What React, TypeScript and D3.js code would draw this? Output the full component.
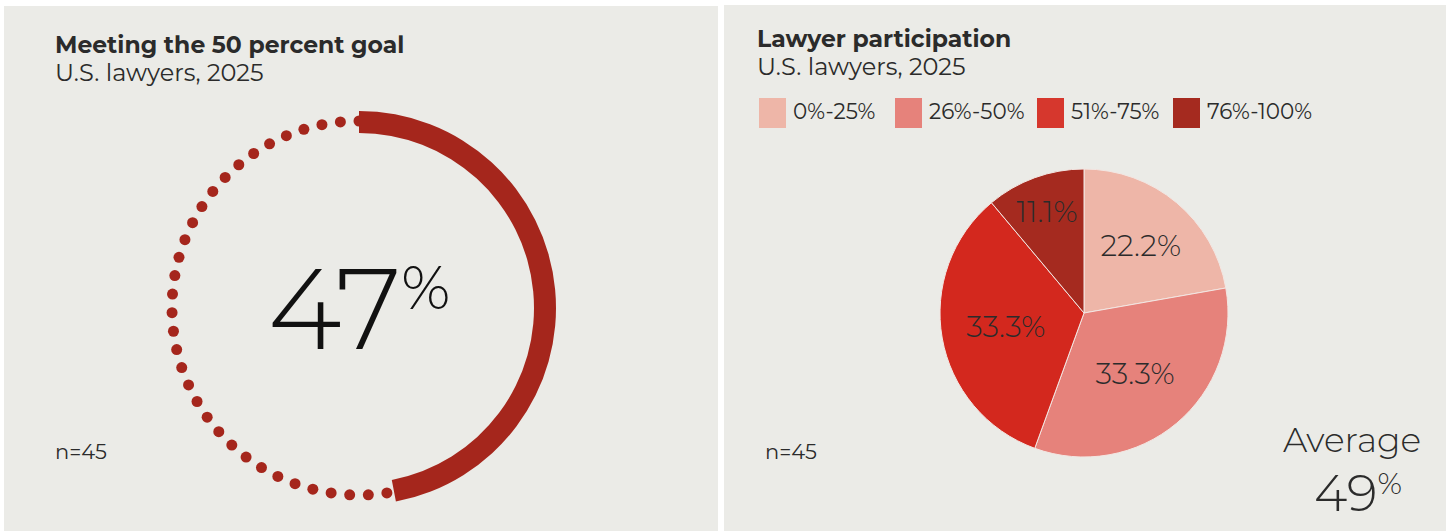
import React, { useEffect, useRef } from 'react'
import * as d3 from 'd3'

// Left card: share of firms meeting the 50 percent goal
const goalTitle = 'Meeting the 50 percent goal'
const goalSubtitle = 'U.S. lawyers, 2025'
const goalShare = 47
const goalSample = 'n=45'

// Right card: lawyer participation buckets
const pieTitle = 'Lawyer participation'
const pieSubtitle = 'U.S. lawyers, 2025'
const bucketLabels = ['0%-25%', '26%-50%', '51%-75%', '76%-100%']
const bucketShares = [22.2, 33.3, 33.3, 11.1]
const bucketColors = ['#eeb6a8', '#e6827b', '#d3281e', '#a52a1f']
const pieSample = 'n=45'
const averageLabel = 'Average'
const averageValue = 49

const WIDTH = 1450
const HEIGHT = 531
const FONT = "Montserrat, 'Noto Sans', 'Open Sans', sans-serif"
const INK = '#2b2b2b'
const PANEL = '#ebebe7'
const DARK_RED = '#a5261c'

export default function App() {
  const svgRef = useRef<SVGSVGElement>(null)

  useEffect(() => {
    if (!svgRef.current) return
    const root = d3.select(svgRef.current)
    root.selectAll('*').remove()
    root.attr('width', WIDTH).attr('height', HEIGHT).style('font-family', FONT)

    root.append('rect').attr('width', WIDTH).attr('height', HEIGHT).attr('fill', '#fff')
    root.append('rect').attr('x', 4).attr('y', 6).attr('width', 714).attr('height', HEIGHT - 6).attr('fill', PANEL)
    root.append('rect').attr('x', 724).attr('y', 5).attr('width', 722).attr('height', HEIGHT - 5).attr('fill', PANEL)

    const heading = (x: number, y: number, title: string, sub: string) => {
      root.append('text').attr('x', x).attr('y', y).attr('font-size', 23.5).attr('font-weight', 700)
        .attr('fill', INK).text(title)
      root.append('text').attr('x', x).attr('y', y + 28).attr('font-size', 24).attr('font-weight', 400)
        .attr('fill', INK).text(sub)
    }

    // ---- gauge ----
    heading(55, 53, goalTitle, goalSubtitle)
    const gauge = root.append('g').attr('transform', 'translate(359,308)')
    const dotRadius = 187
    const dotCount = 63
    const angle = d3.scaleLinear().domain([0, dotCount]).range([0, 2 * Math.PI])
    gauge.selectAll('circle.dot')
      .data(d3.range(dotCount))
      .join('circle')
      .attr('class', 'dot')
      .attr('cx', (i) => dotRadius * Math.sin(angle(i)))
      .attr('cy', (i) => -dotRadius * Math.cos(angle(i)))
      .attr('r', 5.5)
      .attr('fill', DARK_RED)

    const share = d3.scaleLinear().domain([0, 100]).range([0, 2 * Math.PI])
    const gaugeArc = d3.arc<any>().innerRadius(175).outerRadius(197)
    gauge.append('path')
      .attr('d', gaugeArc({ startAngle: 0, endAngle: share(goalShare) }))
      .attr('fill', DARK_RED)

    const big = gauge.append('text').attr('x', 0).attr('y', 41).attr('text-anchor', 'middle')
      .attr('fill', '#111').attr('font-weight', 300)
    big.append('tspan').attr('font-size', 113).text(String(goalShare))
    big.append('tspan').attr('font-size', 60).attr('dy', -40).text('%')

    root.append('text').attr('x', 55).attr('y', 459).attr('font-size', 21).attr('fill', INK).text(goalSample)

    // ---- pie ----
    heading(757, 47, pieTitle, pieSubtitle)
    const legend = root.append('g').attr('transform', 'translate(759,98)')
    const legendX = [0, 136, 278, 414]
    bucketLabels.forEach((label, i) => {
      const item = legend.append('g').attr('transform', `translate(${legendX[i]},0)`)
      item.append('rect').attr('width', 27).attr('height', 30).attr('fill', i === 2 ? '#d6372d' : bucketColors[i])
      item.append('text').attr('x', 34).attr('y', 21).attr('font-size', 21.5).attr('fill', INK).text(label)
    })

    const pie = d3.pie<number>().sort(null).value((d) => d)
    const slices = pie(bucketShares)
    const radius = 144
    const arc = d3.arc<d3.PieArcDatum<number>>().innerRadius(0).outerRadius(radius)
    // label sits at the area centroid of each sector, a little further out for thin slices
    const labelPos = (d: d3.PieArcDatum<number>) => {
      const half = (d.endAngle - d.startAngle) / 2
      let r = (2 * radius * Math.sin(half)) / (3 * half)
      if (half < 0.4) r += 14
      const mid = d.startAngle + half
      return [r * Math.sin(mid), -r * Math.cos(mid)]
    }
    const pg = root.append('g').attr('transform', 'translate(1084,313)')
    pg.selectAll('path')
      .data(slices)
      .join('path')
      .attr('d', arc)
      .attr('fill', (_, i) => bucketColors[i])
      .attr('stroke', '#f3e6e2')
      .attr('stroke-width', 1)
    pg.selectAll('text')
      .data(slices)
      .join('text')
      .attr('transform', (d) => `translate(${labelPos(d)})`)
      .attr('text-anchor', 'middle')
      .attr('dy', '0.35em')
      .attr('font-size', 29.5)
      .attr('font-weight', 300)
      .attr('fill', INK)
      .text((d) => `${d.data.toFixed(1)}%`)

    root.append('text').attr('x', 765).attr('y', 459).attr('font-size', 21).attr('fill', INK).text(pieSample)

    root.append('text').attr('x', 1352).attr('y', 452).attr('text-anchor', 'middle')
      .attr('font-size', 34.5).attr('font-weight', 300).attr('fill', INK).text(averageLabel)
    const avg = root.append('text').attr('x', 1358).attr('y', 511).attr('text-anchor', 'middle')
      .attr('fill', INK).attr('font-weight', 300)
    avg.append('tspan').attr('font-size', 51).text(String(averageValue))
    avg.append('tspan').attr('font-size', 30).attr('dy', -17).text('%')
  }, [])

  return (
    <div style={{ position: 'absolute', left: 0, top: 0 }}>
      <svg ref={svgRef} style={{ display: 'block' }}></svg>
    </div>
  )
}
